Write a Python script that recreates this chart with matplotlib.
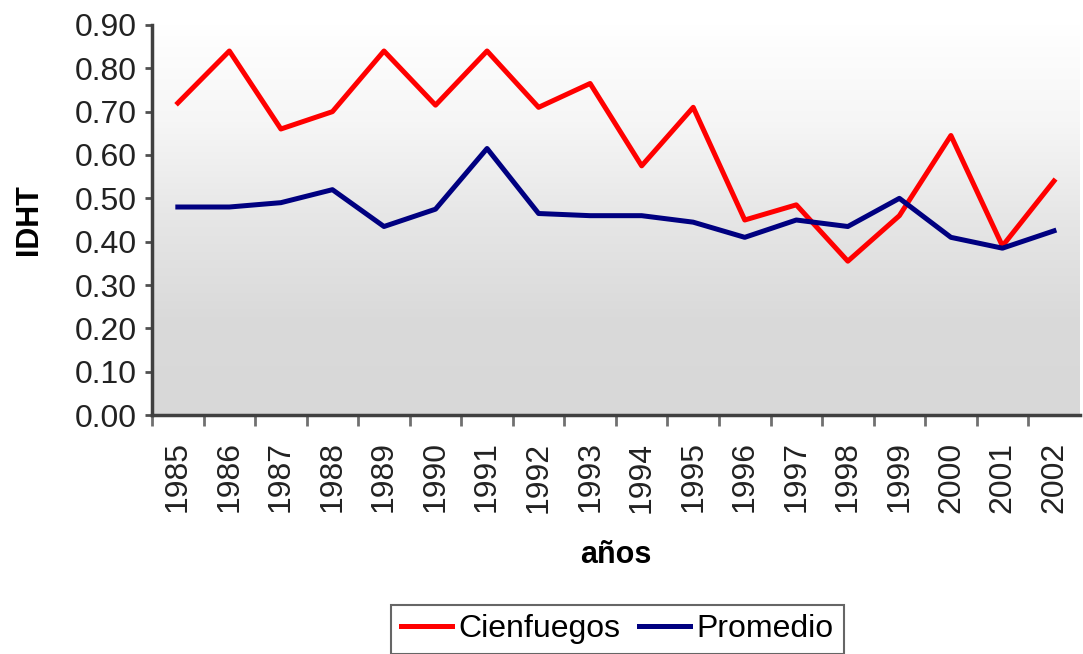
import numpy as np
import matplotlib
matplotlib.use("Agg")
import matplotlib.pyplot as plt

plt.rcParams['font.family'] = ['Liberation Sans', 'DejaVu Sans']

# data
years = ['1985', '1986', '1987', '1988', '1989', '1990', '1991', '1992', '1993',
         '1994', '1995', '1996', '1997', '1998', '1999', '2000', '2001', '2002']
cienfuegos = [0.72, 0.84, 0.66, 0.70, 0.84, 0.715, 0.84, 0.71, 0.765,
              0.575, 0.71, 0.45, 0.485, 0.355, 0.46, 0.645, 0.39, 0.54]
promedio = [0.48, 0.48, 0.49, 0.52, 0.435, 0.475, 0.615, 0.465, 0.46,
            0.46, 0.445, 0.41, 0.45, 0.435, 0.50, 0.41, 0.385, 0.425]
y_ticks = [0.0, 0.1, 0.2, 0.3, 0.4, 0.5, 0.6, 0.7, 0.8, 0.9]

fig = plt.figure(figsize=(10.83, 6.54), dpi=100)
ax = fig.add_axes([0.1404, 0.3654, 0.8566, 0.5964])

# gradient background: white at top, light grey at bottom
grad = np.linspace(0, 1, 256).reshape(-1, 1)
bg = matplotlib.colors.LinearSegmentedColormap.from_list(
    'bg', ['#ffffff', '#f6f6f6', '#e6e6e6', '#dadada', '#d8d8d8'], N=256)
ax.imshow(grad, cmap=bg, extent=[0, 1, 0, 1], transform=ax.transAxes,
          aspect='auto', zorder=0, origin='upper')

x = np.arange(len(years))
l1, = ax.plot(x, cienfuegos, color='#ff0000', lw=3.6, label='Cienfuegos', zorder=3)
l2, = ax.plot(x, promedio, color='#000080', lw=3.6, label='Promedio', zorder=3)

ax.set_xlim(-0.5, len(years) - 0.5)
ax.set_ylim(0, 0.9)
ax.set_yticks(y_ticks)
ax.set_yticklabels(['%.2f' % v for v in y_ticks])

ax.set_xticks(x)
ax.set_xticklabels(years, rotation=90)
ax.set_xticks(np.arange(len(years)) - 0.5, minor=True)
ax.tick_params(axis='x', which='major', length=0, pad=19, labelsize=23, colors='#222222')
ax.tick_params(axis='x', which='minor', length=8, width=2, color='#707070')
ax.tick_params(axis='y', length=5, width=2, color='#505050', labelsize=23,
               labelcolor='#222222', pad=6)

for side in ['top', 'right']:
    ax.spines[side].set_visible(False)
for side in ['left', 'bottom']:
    ax.spines[side].set_color('#404040')
    ax.spines[side].set_linewidth(2.5)

ax.set_ylabel('IDHT', fontsize=22, fontweight='bold', labelpad=22)
ax.set_xlabel('años', fontsize=22, fontweight='bold', labelpad=20)

leg = fig.legend(handles=[l1, l2], loc='lower center', bbox_to_anchor=(0.570, 0.0),
                 ncol=2, fontsize=23, frameon=True, fancybox=False,
                 handlelength=1.6, handletextpad=0.2, columnspacing=0.6,
                 borderpad=0.3, borderaxespad=0.0)
leg.get_frame().set_edgecolor('#404040')
leg.get_frame().set_linewidth(1.5)

plt.savefig('out.png', dpi=100)
